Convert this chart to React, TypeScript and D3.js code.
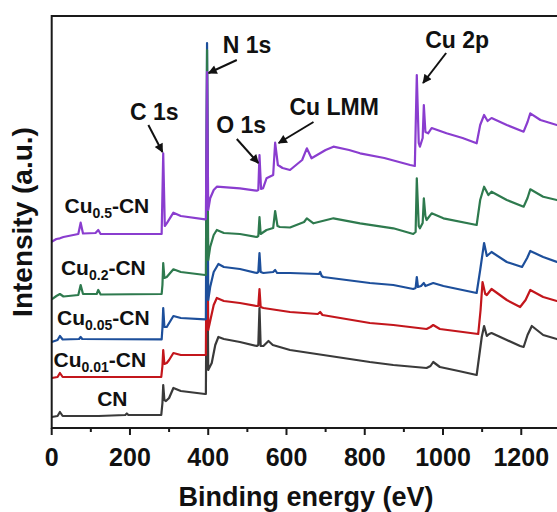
import React from 'react';
import * as d3 from 'd3';

// XPS survey spectra of CN and Cu-loaded CN samples (binding energy in eV, intensity offset-stacked, a.u.)
type Pt = [number, number];

const cnSpectrum: Pt[] = [
  [0, 11], [15, 12], [21, 16], [28, 12], [120, 12], [188, 13], [192, 14.5], [196, 13], [280, 13],
  [283, 25], [285, 43], [288, 28], [292, 27], [300, 30], [311, 40], [330, 37], [392, 34], [394, 34],
  [397, 228], [400, 58], [409, 65], [418, 83], [426, 91], [440, 89], [481, 86], [524, 82], [528, 83],
  [531, 120], [534, 82], [541, 82], [554, 87], [565, 83], [609, 78], [694, 73], [813, 66], [873, 63],
  [958, 60], [968, 62], [975, 66], [992, 61], [1040, 57], [1086, 53], [1099, 91], [1105, 102],
  [1112, 92], [1118, 94], [1124, 95], [1163, 88], [1197, 82], [1206, 81], [1216, 93], [1227, 102],
  [1256, 93], [1291, 89], [1300, 88],
];

const cu001Spectrum: Pt[] = [
  [0, 50], [15, 51], [21, 55], [28, 51], [280, 51], [283, 62], [285, 78], [288, 64], [294, 65],
  [300, 68], [311, 75], [330, 73], [392, 73], [394, 73], [397, 278], [400, 98], [405, 107], [414, 123],
  [422, 130], [440, 127], [481, 125], [524, 122], [528, 122], [531, 139], [534, 121], [541, 120],
  [609, 116], [680, 114], [686, 116], [692, 113], [813, 105], [873, 103], [958, 99], [968, 101],
  [975, 103], [992, 99], [1090, 94], [1096, 118], [1101, 146], [1108, 134], [1112, 133], [1118, 136],
  [1124, 139], [1163, 128], [1197, 121], [1211, 128], [1223, 138], [1256, 131], [1291, 127], [1300, 127],
];

const cu005Spectrum: Pt[] = [
  [0, 86], [15, 88], [21, 92], [28, 88.5], [70, 89], [74, 91], [78, 89], [281, 88.7], [283, 100],
  [285, 120], [288, 101], [294, 101], [311, 112], [330, 110], [392, 108.7], [394, 109], [397, 385],
  [400, 128], [405, 141], [414, 156], [426, 164], [440, 161], [481, 159], [524, 155], [528, 156],
  [531, 175], [534, 156], [541, 155], [566, 156], [571, 158], [576, 155], [609, 155], [683, 154],
  [686, 156], [690, 152], [694, 151], [813, 145], [873, 143], [924, 139], [930, 140], [933, 151],
  [936, 141], [944, 142], [951, 145], [955, 142], [975, 145], [1001, 142], [1086, 135], [1095, 158],
  [1105, 185], [1112, 172], [1118, 174], [1124, 176], [1163, 166], [1202, 161], [1215, 170],
  [1223, 177], [1256, 171], [1291, 166], [1300, 166],
];

const cu02Spectrum: Pt[] = [
  [0, 128.7], [12, 132], [21, 134], [30, 131.5], [68, 133], [74, 143], [80, 134], [115, 134],
  [119, 138], [125, 133.5], [281, 134], [283, 143], [285, 165], [288, 150], [294, 151], [311, 158.7],
  [330, 156], [392, 153], [394, 153], [397, 378], [400, 168], [405, 181], [414, 193], [422, 198],
  [440, 195], [481, 194], [524, 191], [528, 192], [531, 211], [534, 194], [549, 198], [566, 200],
  [571, 217], [577, 202], [583, 201], [609, 200.5], [645, 206], [652, 209.7], [669, 204.7],
  [720, 209.7], [788, 204.7], [873, 199.7], [924, 194], [930, 196], [933, 249.7], [938, 202],
  [941, 199.7], [948, 205], [951, 229.7], [955, 212], [958, 208], [971, 214.7], [1001, 209.7],
  [1086, 203], [1095, 228], [1105, 241.3], [1116, 233], [1124, 236.3], [1163, 228], [1206, 221.3],
  [1216, 230], [1223, 238.7], [1256, 231.3], [1291, 228], [1300, 227.5],
];

const cu05Spectrum: Pt[] = [
  [0, 186.3], [12, 189], [21, 189.7], [30, 191], [68, 194], [74, 205.3], [80, 194.5], [112, 195],
  [119, 198], [125, 194], [281, 194], [285, 274.7], [289, 202], [294, 204.7], [311, 215.3],
  [330, 212], [392, 208.7], [394, 209], [397, 356], [400, 218], [405, 229.7], [414, 238],
  [422, 241.3], [481, 239.7], [524, 237.3], [528, 238], [531, 273], [535, 239], [540, 239.7],
  [549, 249.7], [566, 253], [571, 285.3], [578, 263], [590, 260], [609, 258], [640, 268],
  [652, 279.7], [664, 269.7], [700, 278], [720, 281.3], [760, 278], [788, 274.7], [850, 270],
  [916, 263], [928, 262], [933, 353], [938, 285], [941, 281.3], [948, 290], [951, 323], [955, 296],
  [962, 294.7], [971, 300], [1009, 294.7], [1050, 290], [1086, 284.7], [1095, 303], [1105, 313],
  [1114, 307], [1124, 310], [1163, 303], [1206, 296.3], [1216, 306], [1223, 314.7], [1249, 308],
  [1291, 303], [1300, 302.5],
];

const spectra = [cnSpectrum, cu001Spectrum, cu005Spectrum, cu02Spectrum, cu05Spectrum];
const seriesColors = ['#3a3a3a', '#c3161c', '#1d4f9b', '#2e7a4e', '#8a3dcf'];

// sample labels: main text, subscript, anchor (BE, intensity)
const sampleMain = ['CN', 'Cu', 'Cu', 'Cu', 'Cu'];
const sampleSub = ['', '0.01', '0.05', '0.2', '0.5'];
const sampleAt: Pt[] = [[155, 22], [123, 61], [132, 103], [132, 153], [141, 215]];

// peak annotations: label, label anchor, arrow tail, arrow tip (BE, intensity)
const peakNames = ['C 1s', 'N 1s', 'O 1s', 'Cu LMM', 'Cu 2p'];
const peakLabelAt: Pt[] = [[262, 308], [499, 375], [484, 295], [722, 313], [1036, 380]];
const peakArrowFrom: Pt[] = [[247, 303], [473, 368], [473, 289], [669, 306], [1008, 375]];
const peakArrowTo: Pt[] = [[283, 276], [401, 355], [528, 265], [580, 285], [949, 345]];

const xMajorTicks = [0, 200, 400, 600, 800, 1000, 1200];
const xMinorTicks = [100, 300, 500, 700, 900, 1100, 1300];

const FONT = '"Liberation Sans", Arial, Helvetica, sans-serif';

export default function App() {
  const W = 557;
  const H = 512;
  const x = d3.scaleLinear().domain([0, 1300]).range([51.7, 560.4]);
  const y = d3.scaleLinear().domain([0, 412]).range([428, 16]);
  const line = d3
    .line<Pt>()
    .x((d) => x(d[0]))
    .y((d) => y(d[1]));

  const [x0, x1] = x.range();
  const [yb, yt] = y.range();

  return (
    <svg
      width={W}
      height={H}
      style={{ position: 'absolute', left: 0, top: 0, background: '#fff' }}
      fontFamily={FONT}
    >
      <defs>
        <marker
          id="arrowHead"
          viewBox="0 0 10 10"
          refX="9"
          refY="5"
          markerWidth="11"
          markerHeight="9"
          markerUnits="userSpaceOnUse"
          orient="auto"
        >
          <path d="M0,0 L10,5 L0,10 Z" fill="#111" />
        </marker>
        <clipPath id="plotClip">
          <rect x={x0} y={yt} width={x1 - x0} height={yb - yt} />
        </clipPath>
      </defs>

      <g clipPath="url(#plotClip)">
        {spectra.map((s, i) => (
          <path
            key={i}
            d={line(s) ?? ''}
            fill="none"
            stroke={seriesColors[i]}
            strokeWidth={2.2}
            strokeLinejoin="round"
          />
        ))}
      </g>

      {/* frame */}
      <rect x={x0} y={yt} width={x1 - x0} height={yb - yt} fill="none" stroke="#1a1a1a" strokeWidth={2} />

      {/* x ticks */}
      {xMajorTicks.map((t) => (
        <g key={'M' + t}>
          <line x1={x(t)} x2={x(t)} y1={yb} y2={yb + 7} stroke="#1a1a1a" strokeWidth={2} />
          <text
            x={x(t)}
            y={yb + 38}
            textAnchor="middle"
            fontSize={25}
            fontWeight="bold"
            fill="#111"
          >
            {t}
          </text>
        </g>
      ))}
      {xMinorTicks.map((t) => (
        <line key={'m' + t} x1={x(t)} x2={x(t)} y1={yb} y2={yb + 4} stroke="#1a1a1a" strokeWidth={2} />
      ))}

      {/* axis titles */}
      <text
        x={(x0 + x1) / 2}
        y={506}
        textAnchor="middle"
        fontSize={27}
        fontWeight="bold"
        fill="#111"
      >
        Binding energy (eV)
      </text>
      <text
        transform={`translate(32,${(yb + yt) / 2}) rotate(-90)`}
        textAnchor="middle"
        fontSize={28}
        fontWeight="bold"
        fill="#111"
      >
        Intensity (a.u.)
      </text>

      {/* sample labels */}
      {sampleMain.map((m, i) => (
        <text
          key={'s' + i}
          x={x(sampleAt[i][0])}
          y={y(sampleAt[i][1])}
          textAnchor="middle"
          fontSize={21}
          fontWeight="bold"
          fill="#111"
        >
          {sampleSub[i] ? (
            <>
              <tspan>{m}</tspan>
              <tspan fontSize={14} dy={5}>
                {sampleSub[i]}
              </tspan>
              <tspan dy={-5}>-CN</tspan>
            </>
          ) : (
            m
          )}
        </text>
      ))}

      {/* peak annotations */}
      {peakNames.map((p, i) => (
        <g key={'p' + i}>
          <text
            x={x(peakLabelAt[i][0])}
            y={y(peakLabelAt[i][1])}
            textAnchor="middle"
            fontSize={23}
            fontWeight="bold"
            fill="#111"
          >
            {p}
          </text>
          <line
            x1={x(peakArrowFrom[i][0])}
            y1={y(peakArrowFrom[i][1])}
            x2={x(peakArrowTo[i][0])}
            y2={y(peakArrowTo[i][1])}
            stroke="#111"
            strokeWidth={2}
            markerEnd="url(#arrowHead)"
          />
        </g>
      ))}
    </svg>
  );
}
